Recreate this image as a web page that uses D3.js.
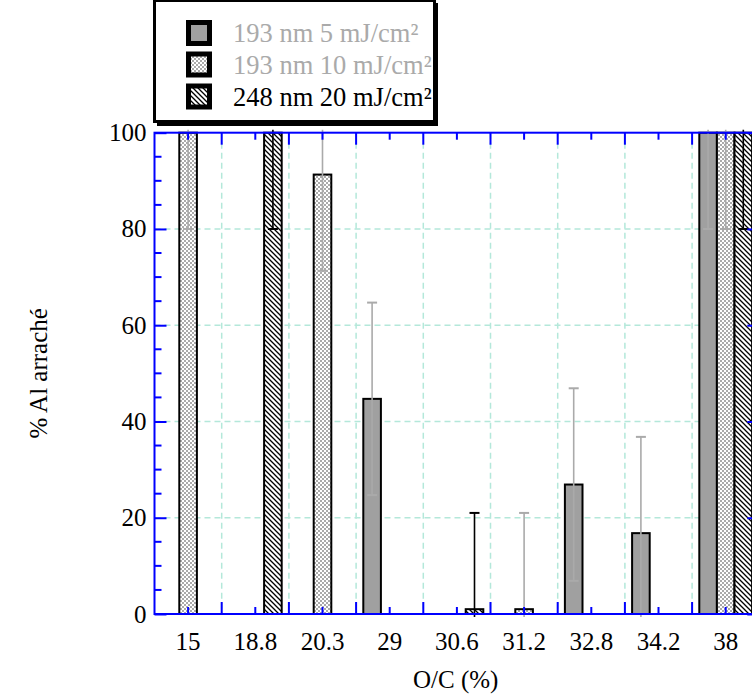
<!DOCTYPE html>
<html>
<head>
<meta charset="utf-8">
<script src="https://cdn.jsdelivr.net/npm/d3@7/dist/d3.min.js"></script>
<style>
  html, body { margin: 0; padding: 0; background: #fff; }
  svg text { font-family: "Liberation Serif", "Times New Roman", Times, "DejaVu Serif", serif !important; }
</style>
</head>
<body>
<svg id="chart" width="752" height="698"></svg>
<script>
// ---- data ----
const categories = ["15", "18.8", "20.3", "29", "30.6", "31.2", "32.8", "34.2", "38"];
const seriesNames = ["193 nm 5 mJ/cm²", "193 nm 10 mJ/cm²", "248 nm 20 mJ/cm²"];
const values193_5  = [null, null, null, 44.7, null, null, 26.9, 16.8, 100];
const values193_10 = [100, null, 91.3, null, null, 1, null, null, 100];
const values248_20 = [null, 100, null, null, 1, null, null, null, 100];
const errors193_5  = [null, null, null, 20, null, null, 20, 20, 20];
const errors193_10 = [20, null, 20, null, null, 20, null, null, 20];
const errors248_20 = [null, 20, null, null, 20, null, null, null, 20];
const yTickValues = [0, 20, 40, 60, 80, 100];
const xTitle = "O/C (%)";
const yTitle = "% Al arraché";

// ---- layout ----
const svg = d3.select("#chart");
const pLeft = 154.5, pRight = 759.3, pTop = 132.7, pBottom = 614;
const axisColor = "#0000ff";
const gridColor = "#b4e8da";
const serif = '"Liberation Serif", "Times New Roman", Times, serif';

const x = d3.scaleBand().domain(categories).range([pLeft, pRight]).paddingInner(0).paddingOuter(0);
const bw = x.bandwidth();
const sub = d3.scaleBand().domain([0, 1, 2]).range([bw / 2 - 26.4, bw / 2 + 26.4]).padding(0);
const y = d3.scaleLinear().domain([0, 100]).range([pBottom, pTop]);

// patterns
const defs = svg.append("defs");
const chk = defs.append("pattern").attr("id", "checker").attr("patternUnits", "userSpaceOnUse")
  .attr("width", 4).attr("height", 4);
chk.append("rect").attr("width", 4).attr("height", 4).attr("fill", "#fff");
chk.append("rect").attr("width", 2).attr("height", 2).attr("fill", "#aaa");
chk.append("rect").attr("x", 2).attr("y", 2).attr("width", 2).attr("height", 2).attr("fill", "#aaa");

const hatch = defs.append("pattern").attr("id", "hatch").attr("patternUnits", "userSpaceOnUse")
  .attr("width", 5).attr("height", 5);
hatch.append("rect").attr("width", 5).attr("height", 5).attr("fill", "#fff");
hatch.append("path").attr("d", "M-1,-1 L6,6 M-1,4 L1,6 M4,-1 L6,1")
  .attr("stroke", "#000").attr("stroke-width", 1.3);

defs.append("clipPath").attr("id", "plotclip").append("rect")
  .attr("x", pLeft).attr("y", pTop - 3).attr("width", pRight - pLeft).attr("height", pBottom - pTop + 6);

const fills = ["#a0a0a0", "url(#checker)", "url(#hatch)"];
const errColors = ["#aaaaaa", "#aaaaaa", "#000000"];

// ---- grid ----
const grid = svg.append("g");
const boundaries = categories.slice(1).map(c => x(c));
grid.selectAll("line.v").data(boundaries).join("line")
  .attr("x1", d => d).attr("x2", d => d).attr("y1", pTop).attr("y2", pBottom)
  .attr("stroke", gridColor).attr("stroke-width", 1.5).attr("stroke-dasharray", "6,4");
grid.selectAll("line.h").data([20, 40, 60, 80]).join("line")
  .attr("x1", pLeft).attr("x2", pRight).attr("y1", d => y(d)).attr("y2", d => y(d))
  .attr("stroke", gridColor).attr("stroke-width", 1.5).attr("stroke-dasharray", "6,4");

// ---- bars ----
const seriesVals = [values193_5, values193_10, values248_20];
const seriesErr = [errors193_5, errors193_10, errors248_20];
const barData = [];
seriesVals.forEach((vals, s) => vals.forEach((v, i) => {
  if (v !== null) barData.push({ s, cat: categories[i], v, e: seriesErr[s][i] });
}));

const plot = svg.append("g").attr("clip-path", "url(#plotclip)");
plot.selectAll("rect.bar").data(barData).join("rect")
  .attr("x", d => x(d.cat) + sub(d.s))
  .attr("y", d => y(d.v))
  .attr("width", sub.bandwidth())
  .attr("height", d => y(0) - y(d.v))
  .attr("fill", d => fills[d.s])
  .attr("stroke", "#000").attr("stroke-width", 2);

// error bars
const errG = plot.append("g");
barData.filter(d => d.e !== null).forEach(d => {
  const cx = x(d.cat) + sub(d.s) + sub.bandwidth() / 2;
  const lo = d.v - d.e, hi = d.v + d.e;
  const c = errColors[d.s];
  errG.append("line").attr("x1", cx).attr("x2", cx).attr("y1", y(lo)).attr("y2", y(hi))
    .attr("stroke", c).attr("stroke-width", 1.6);
  [lo, hi].forEach(val => {
    errG.append("line").attr("x1", cx - 5).attr("x2", cx + 5).attr("y1", y(val)).attr("y2", y(val))
      .attr("stroke", c).attr("stroke-width", 2);
  });
});

// ---- axes ----
const ax = svg.append("g");
ax.append("rect").attr("x", pLeft).attr("y", pTop).attr("width", pRight - pLeft).attr("height", pBottom - pTop)
  .attr("fill", "none").attr("stroke", axisColor).attr("stroke-width", 2);

const xAxisB = d3.axisBottom(x).tickSizeInner(-7).tickSizeOuter(0).tickPadding(18);
const gxb = ax.append("g").attr("transform", `translate(0,${pBottom})`).call(xAxisB);
gxb.select(".domain").remove();
gxb.selectAll(".tick line").attr("stroke", axisColor).attr("stroke-width", 2);
gxb.selectAll(".tick text").attr("font-size", 25).attr("fill", "#000").style("font-family", serif);

const xAxisT = d3.axisTop(x).tickSizeInner(-7).tickSizeOuter(0).tickFormat("");
const gxt = ax.append("g").attr("transform", `translate(0,${pTop})`).call(xAxisT);
gxt.select(".domain").remove();
gxt.selectAll(".tick line").attr("stroke", axisColor).attr("stroke-width", 2);

ax.selectAll("line.bmaj").data(boundaries).join("line")
  .attr("x1", d => d).attr("x2", d => d).attr("y1", pBottom).attr("y2", pBottom - 12)
  .attr("stroke", axisColor).attr("stroke-width", 2);
ax.selectAll("line.tmaj").data(boundaries).join("line")
  .attr("x1", d => d).attr("x2", d => d).attr("y1", pTop).attr("y2", pTop + 12)
  .attr("stroke", axisColor).attr("stroke-width", 2);

const minorY = d3.range(0, 101, 5).filter(v => v % 20 !== 0);
const yAxisL = d3.axisLeft(y).tickValues(yTickValues).tickSizeInner(-12).tickSizeOuter(0).tickPadding(8);
const gyl = ax.append("g").attr("transform", `translate(${pLeft},0)`).call(yAxisL);
gyl.select(".domain").remove();
gyl.selectAll(".tick line").attr("stroke", axisColor).attr("stroke-width", 2);
gyl.selectAll(".tick text").attr("font-size", 25).attr("fill", "#000").style("font-family", serif);
ax.selectAll("line.lmin").data(minorY).join("line")
  .attr("x1", pLeft).attr("x2", pLeft + 7).attr("y1", d => y(d)).attr("y2", d => y(d))
  .attr("stroke", axisColor).attr("stroke-width", 2);

const yAxisR = d3.axisRight(y).tickValues(yTickValues).tickSizeInner(-12).tickSizeOuter(0).tickFormat("");
const gyr = ax.append("g").attr("transform", `translate(${pRight},0)`).call(yAxisR);
gyr.select(".domain").remove();
gyr.selectAll(".tick line").attr("stroke", axisColor).attr("stroke-width", 2);
ax.selectAll("line.rmin").data(minorY).join("line")
  .attr("x1", pRight).attr("x2", pRight - 7).attr("y1", d => y(d)).attr("y2", d => y(d))
  .attr("stroke", axisColor).attr("stroke-width", 2);

// titles
svg.append("text").attr("x", (pLeft + 757) / 2).attr("y", 688).attr("text-anchor", "middle")
  .attr("font-size", 25).style("font-family", serif).text(xTitle);
svg.append("text").attr("transform", `translate(47,${(pTop + pBottom) / 2}) rotate(-90)`)
  .attr("text-anchor", "middle").attr("font-size", 25).style("font-family", serif).text(yTitle);

// ---- legend ----
const lg = svg.append("g");
lg.append("rect").attr("x", 157).attr("y", 3).attr("width", 281).attr("height", 123).attr("fill", "#000");
lg.append("rect").attr("x", 154.5).attr("y", 0.5).attr("width", 280).attr("height", 121)
  .attr("fill", "#fff").attr("stroke", "#000").attr("stroke-width", 3);
defs.append("clipPath").attr("id", "lgclip").append("rect")
  .attr("x", 156).attr("y", 2).attr("width", 277).attr("height", 118);
const legendColors = ["#aaaaaa", "#aaaaaa", "#000000"];
const rowsY = [33, 64.5, 96.5];
const items = lg.append("g").attr("clip-path", "url(#lgclip)");
seriesNames.forEach((name, i) => {
  items.append("rect").attr("x", 188.5).attr("y", rowsY[i] - 10.5).attr("width", 21).attr("height", 21)
    .attr("fill", fills[i]).attr("stroke", "#000").attr("stroke-width", 5);
  items.append("text").attr("x", 233).attr("y", rowsY[i] + 9).attr("font-size", 26.5)
    .attr("fill", legendColors[i]).style("font-family", serif).text(name);
});
</script>
</body>
</html>
